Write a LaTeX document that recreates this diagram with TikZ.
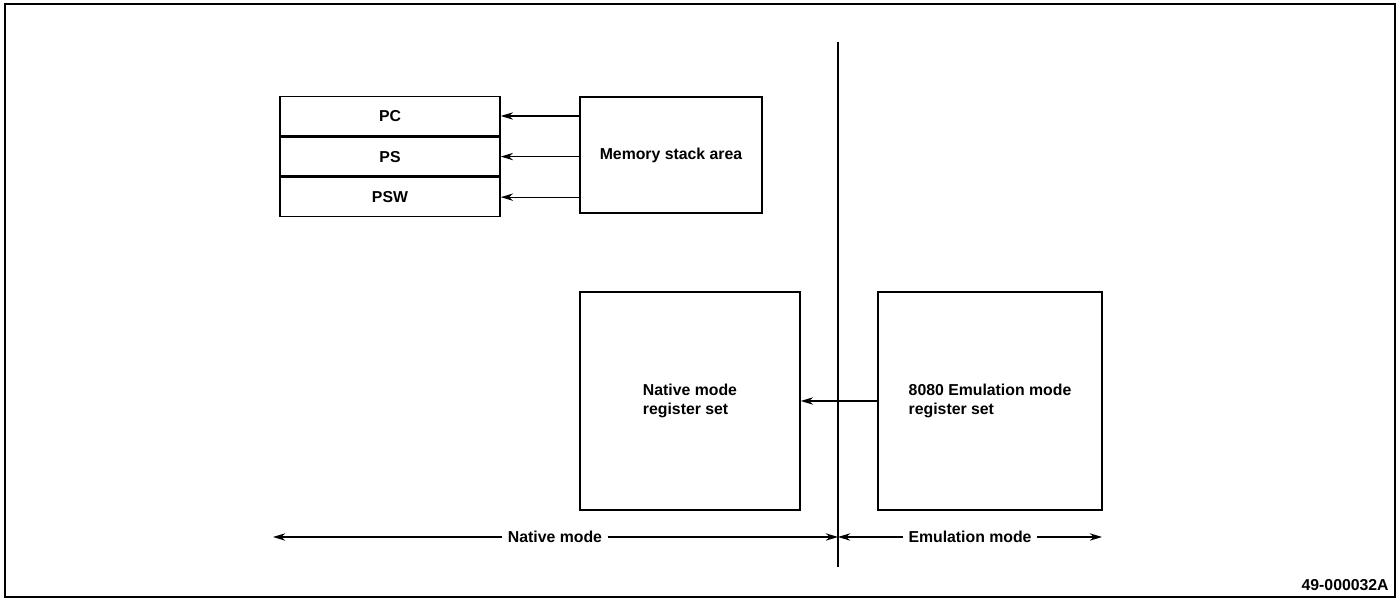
\documentclass[tikz,border=0pt]{standalone}
\usepackage{fontspec}
\setmainfont{Liberation Sans}
\usetikzlibrary{arrows.meta,positioning,calc}

\begin{document}
\begin{tikzpicture}[
    font=\fontsize{9}{11}\selectfont\bfseries,
    reg/.style={draw, line width=0.9pt, minimum width=4.4cm, minimum height=0.78cm, inner sep=0pt},
    blk/.style={draw, line width=0.9pt, inner sep=0pt, align=left},
    arr/.style={line width=0.6pt, -{Stealth[length=7pt,width=4.2pt]}}
  ]
  \useasboundingbox (0,0) rectangle (28,12.02);
  \draw[line width=0.8pt] (0.1,0.08) rectangle (27.9,11.94);
  % saved registers
  \node[reg] (pc) at (7.8,9.7) {PC};
  \node[reg, below=0pt of pc] (ps) {PS};
  \node[reg, below=0pt of ps] (psw) {PSW};
  \node[blk, minimum width=3.64cm, minimum height=2.32cm] (mem) at (13.42,8.92) {Memory stack area};
  \foreach \r in {pc,ps,psw} \draw[arr] (mem.west |- \r.east) -- (\r.east);
  % register sets
  \node[blk, minimum width=4.4cm, minimum height=4.36cm] (nat) at (13.8,4.0) {Native mode\\register set};
  \node[blk, minimum width=4.48cm, minimum height=4.36cm] (emu) at (19.8,4.0) {8080 Emulation mode\\register set};
  \draw[arr] (emu.west) -- (nat.east);
  % mode divider
  \coordinate (top) at (16.76,11.18);
  \coordinate (bot) at (16.76,0.68);
  \draw[line width=0.6pt] (top) -- (bot);
  \coordinate (nl) at (5.46,1.28);
  \coordinate (mid) at (16.76,1.28);
  \coordinate (er) at (22.04,1.28);
  \node[fill=white, inner sep=3pt] (nm) at (11.1,1.28) {Native mode};
  \node[fill=white, inner sep=3pt] (em) at (19.4,1.28) {Emulation mode};
  \draw[arr] (nm) -- (nl);
  \draw[arr] (nm) -- (mid);
  \draw[arr] (em) -- (mid);
  \draw[arr] (em) -- (er);
  \node[anchor=south east, inner sep=0pt] (fig) at (27.78,0.2) {49-000032A};
\end{tikzpicture}
\end{document}
